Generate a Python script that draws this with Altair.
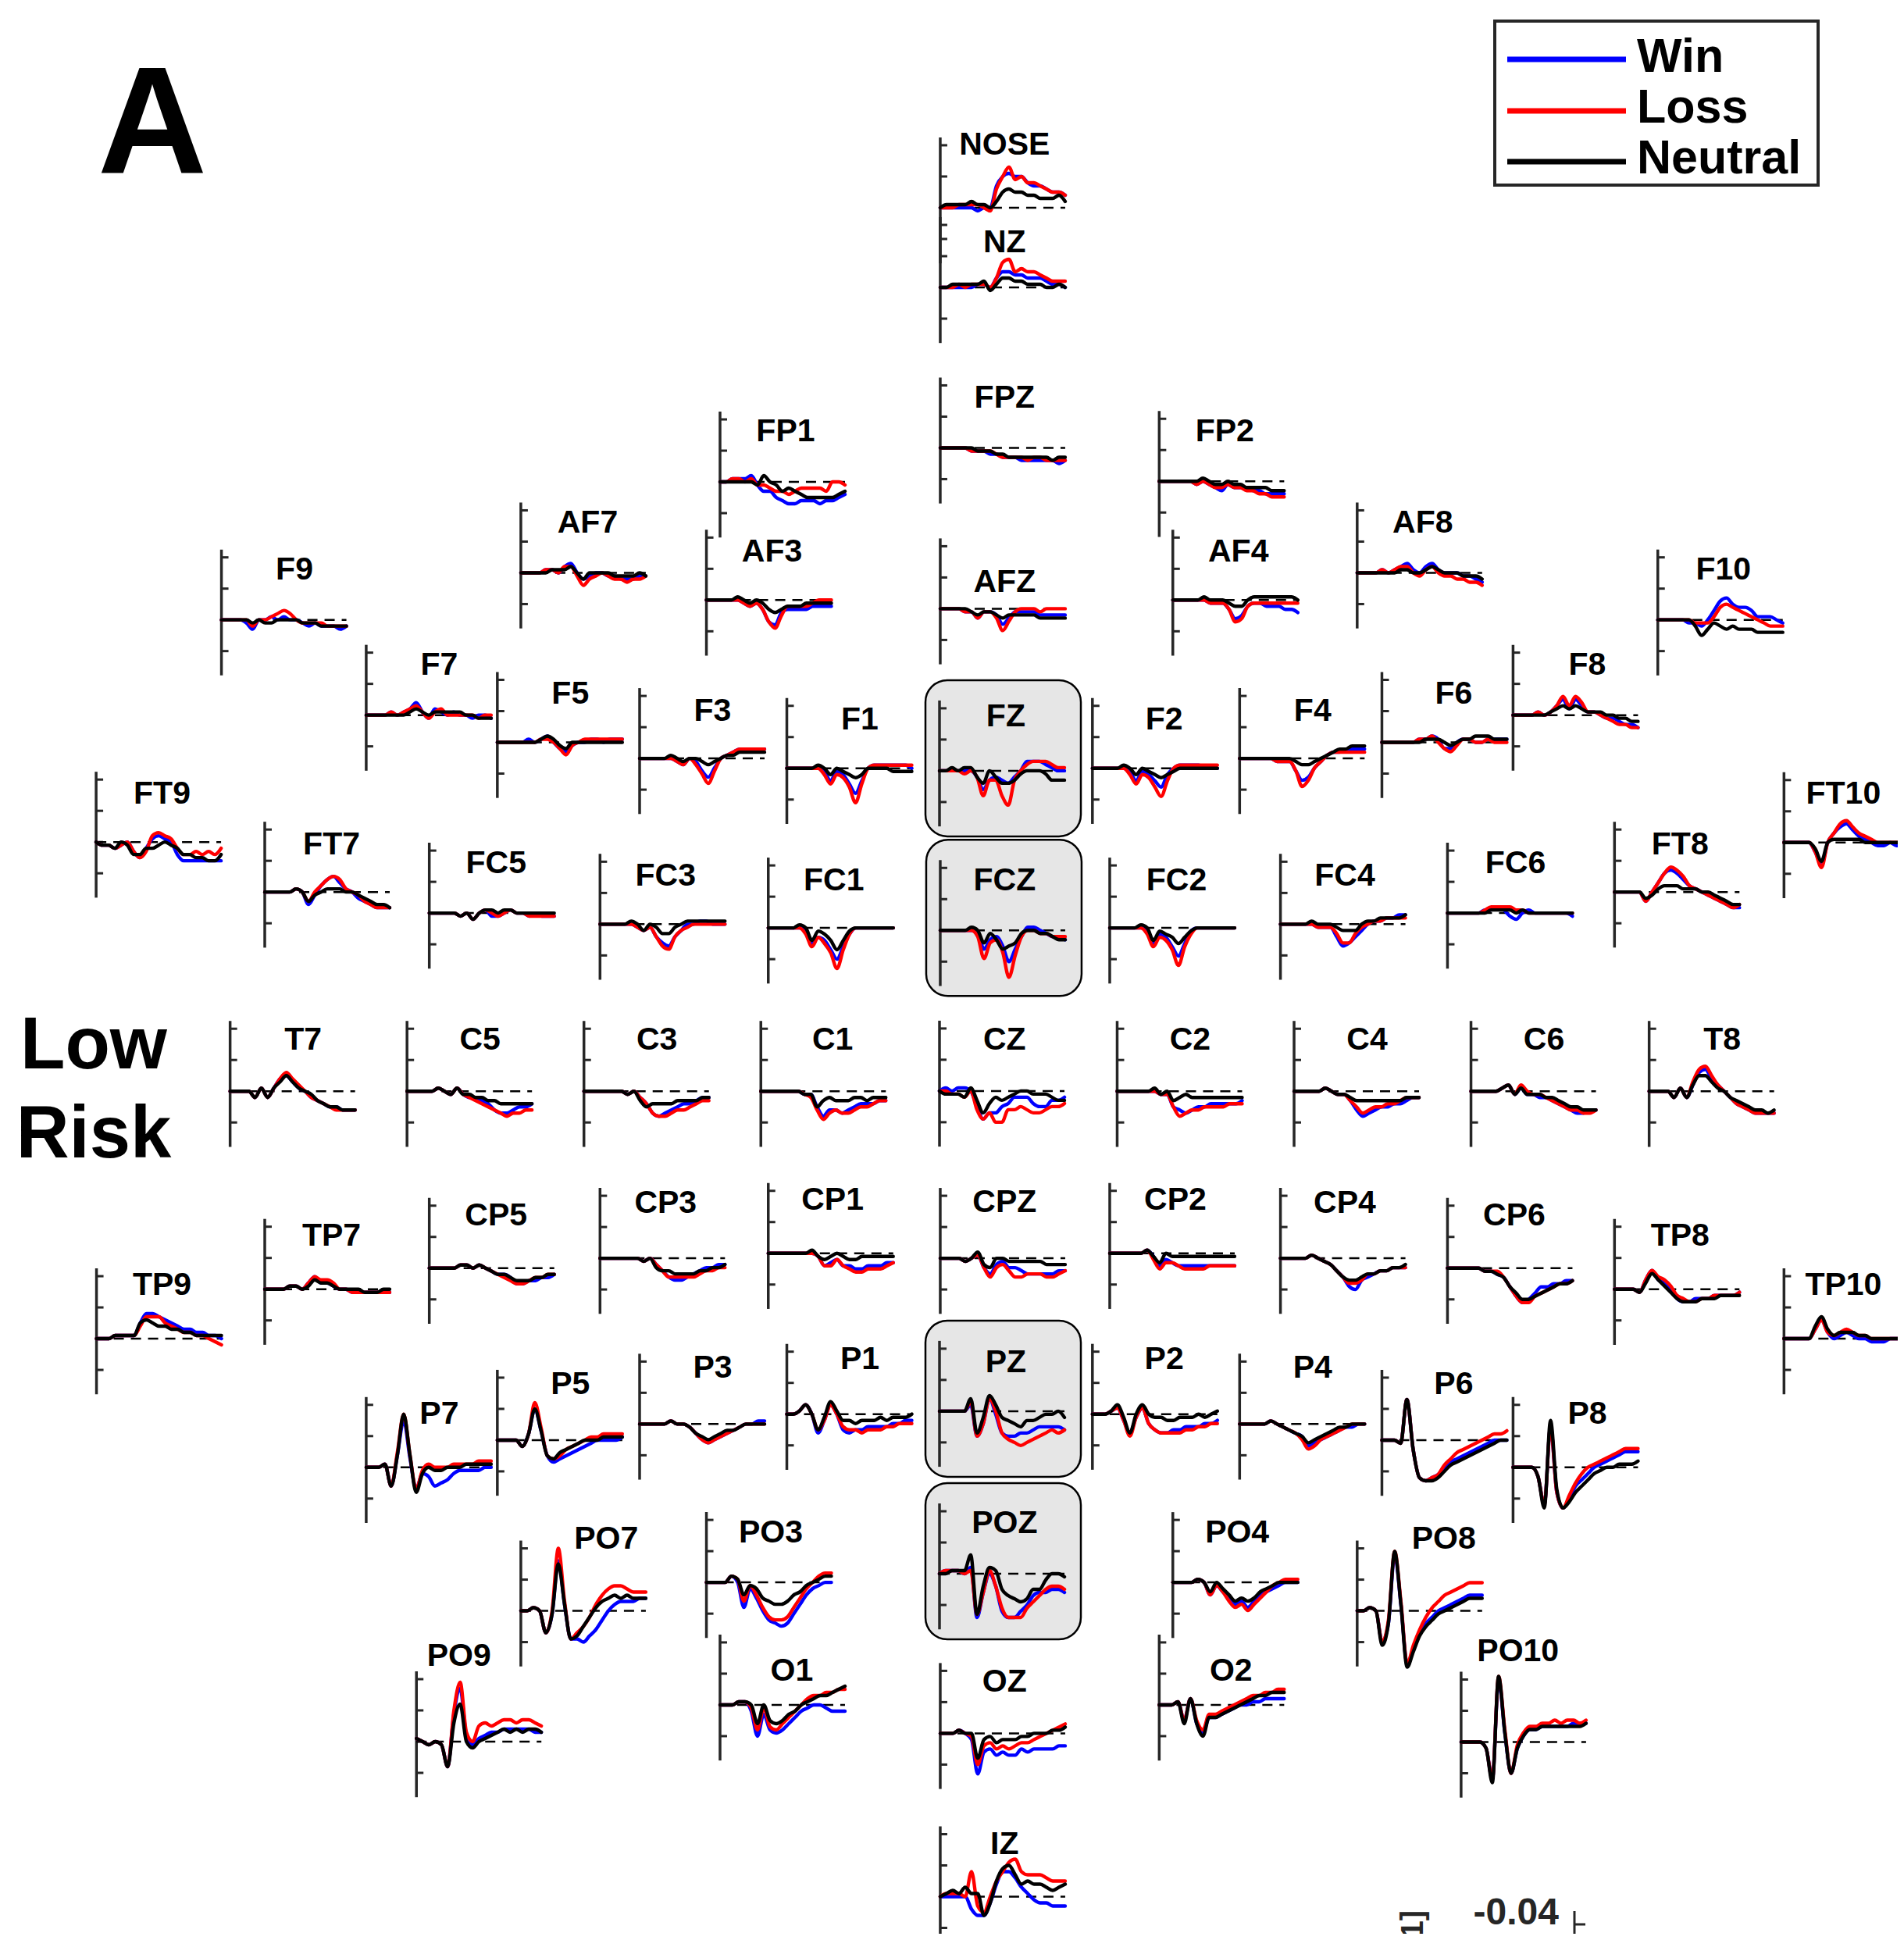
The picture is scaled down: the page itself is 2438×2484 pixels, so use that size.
import altair as alt
import pandas as pd

# ---------------------------------------------------------------- data
TIME_MS = [-200, -150, -100, -50, 0, 50, 100, 150, 200, 250, 300,
           350, 400, 450, 500, 550, 600, 650, 700, 750, 800]
CONDITIONS = ["Win", "Loss", "Neutral"]

# amplitudes in tenths of one axis tick (ticks at 2, 1, 0, -1 tick units)
WIN = {
"NOSE": [0,0,0,0,0,0,-1,0,0,7,10,11,10,10,8,7,7,6,5,5,4],
"NZ":   [0,0,0,0,0,0,1,1,0,3,5,5,4,4,3,3,3,2,1,1,0],
"FPZ":  [0,0,0,0,0,-1,-1,-1,-2,-2,-3,-3,-3,-4,-4,-4,-4,-4,-4,-5,-4],
"FP1":  [0,0,1,1,1,2,-1,-3,-3,-5,-6,-7,-7,-6,-6,-6,-7,-6,-6,-5,-4],
"FP2":  [0,0,0,0,0,0,-1,0,-1,-2,-3,-1,-2,-2,-2,-3,-3,-4,-4,-4,-4],
"AF7":  [0,0,0,0,1,1,0,2,3,0,-2,-1,0,0,-1,-1,-2,-2,-2,-1,-1],
"AF3":  [0,0,0,0,0,0,-1,-2,-1,-3,-7,-8,-4,-3,-3,-3,-3,-2,-2,-2,-2],
"AFZ":  [0,0,0,0,-1,-1,-3,-1,-1,-2,-5,-3,-1,-1,-1,-1,-2,-2,-2,-2,-2],
"AF4":  [0,0,0,0,0,0,-1,-1,-1,-3,-6,-5,-2,-1,-1,-2,-2,-2,-3,-3,-4],
"AF8":  [0,0,0,0,1,0,1,2,3,1,0,2,3,1,0,0,0,-1,-1,-2,-3],
"F9":   [0,0,0,0,-1,-3,0,0,1,0,1,0,0,-1,-2,-1,-2,-2,-2,-3,-2],
"F10":  [0,0,0,0,0,-1,-1,-2,0,3,6,7,5,4,4,3,1,1,1,0,-1],
"F7":   [0,0,0,0,1,0,1,2,4,1,-1,2,1,0,1,0,0,-1,0,0,-1],
"F5":   [0,0,0,0,0,1,0,1,2,0,-2,-3,-1,0,0,1,1,0,1,1,1],
"F3":   [0,0,0,0,0,0,-1,-2,0,-1,-4,-6,-3,0,1,2,3,3,3,3,3],
"F1":   [0,0,0,0,0,0,-1,-4,-1,-2,-5,-8,-4,0,1,1,1,1,1,1,0],
"FZ":   [0,0,0,0,0,0,-2,-6,-3,-2,-3,-4,-2,0,3,3,3,2,1,0,0],
"F2":   [0,0,0,0,0,0,-1,-4,-1,-2,-4,-6,-2,0,1,1,1,1,0,0,0],
"F4":   [0,0,0,0,0,0,-1,-1,-1,-4,-7,-6,-3,-1,1,2,2,3,3,3,3],
"F6":   [0,0,0,0,0,0,1,1,2,1,-2,-2,0,1,1,0,0,1,1,1,1],
"F8":   [0,0,0,0,1,0,1,3,5,2,5,3,1,1,0,-1,-1,-2,-3,-3,-4],
"FT9":  [0,-1,-1,-2,-1,0,-3,-5,-2,1,2,1,0,-4,-6,-6,-6,-6,-6,-6,-6],
"FT10": [0,0,0,0,0,-3,-7,0,3,5,6,4,2,1,0,-1,-1,0,-1,-1,-1],
"FT7":  [0,0,0,0,0,1,0,-4,-1,2,4,5,3,1,0,-2,-3,-4,-5,-5,-5],
"FC5":  [0,0,0,0,0,-1,0,-2,0,1,-1,-1,0,1,0,0,-1,0,-1,-1,-1],
"FC3":  [0,0,0,0,0,0,-1,-2,-1,-4,-6,-7,-4,-2,0,0,1,1,0,0,0],
"FC1":  [0,0,0,0,0,0,-1,-5,-3,-4,-7,-10,-6,-2,0,0,0,0,0,0,0],
"FCZ":  [0,0,0,0,0,0,-1,-6,-3,-2,-5,-10,-6,-2,1,1,0,-1,-2,-2,-3],
"FC2":  [0,0,0,0,0,0,-1,-5,-2,-3,-6,-9,-5,-1,0,0,0,0,0,0,0],
"FC4":  [0,0,0,0,0,0,-1,-1,-1,-4,-7,-6,-4,-2,0,1,1,2,2,3,3],
"FC6":  [0,0,0,0,0,0,1,1,2,1,-1,-2,0,1,0,0,0,0,0,0,-1],
"FT8":  [0,0,0,0,0,-3,0,3,6,7,6,4,2,1,0,-1,-2,-3,-4,-5,-5],
"T7":   [0,0,0,0,-2,1,-2,1,4,5,3,1,0,-2,-3,-4,-5,-5,-6,-6,-6],
"C5":   [0,0,0,0,0,1,0,-1,1,-1,-2,-2,-3,-4,-6,-7,-7,-6,-5,-5,-4],
"C3":   [0,0,0,0,0,0,0,-1,0,-2,-4,-7,-8,-7,-6,-5,-4,-4,-3,-2,-2],
"C1":   [0,0,0,0,0,0,0,-1,-1,-5,-8,-6,-6,-7,-6,-5,-4,-4,-4,-3,-3],
"CZ":   [0,1,0,1,1,0,-5,-9,-7,-7,-5,-4,-2,-2,-2,-4,-5,-5,-3,-3,-2],
"C2":   [0,0,0,0,0,0,0,-1,-1,-5,-6,-7,-6,-5,-5,-4,-4,-4,-4,-4,-3],
"C4":   [0,0,0,0,0,1,0,-1,-1,-3,-6,-8,-7,-6,-5,-5,-4,-4,-3,-2,-2],
"C6":   [0,0,0,0,0,1,2,-1,1,-1,-1,-2,-2,-3,-4,-5,-6,-7,-7,-6,-6],
"T8":   [0,0,0,0,-2,1,-2,2,6,7,4,2,0,-2,-4,-5,-6,-7,-7,-7,-7],
"TP9":  [0,0,0,1,1,1,1,5,8,8,7,6,5,4,3,3,2,2,1,1,0],
"TP10": [0,0,0,0,0,3,6,2,0,1,2,1,0,0,-1,-1,-1,0,0,0,0],
"TP7":  [0,0,0,0,1,1,0,2,4,2,2,1,0,0,-1,-1,-1,-1,-1,-1,-1],
"CP5":  [0,0,0,0,0,1,1,0,1,0,-1,-2,-2,-3,-5,-5,-4,-4,-3,-3,-2],
"CP3":  [0,0,0,0,0,0,0,-1,0,-2,-4,-6,-7,-7,-6,-5,-4,-3,-3,-2,-2],
"CP1":  [0,0,0,0,0,0,0,0,-1,-4,-3,-2,-4,-4,-5,-5,-4,-4,-4,-3,-3],
"CPZ":  [0,0,0,0,-1,0,1,-3,-5,-2,-1,-3,-3,-4,-5,-5,-5,-5,-5,-4,-4],
"CP2":  [0,0,0,0,0,0,1,-1,-4,-2,-3,-4,-4,-4,-4,-4,-4,-4,-4,-4,-4],
"CP4":  [0,0,0,0,0,1,0,-1,-2,-4,-6,-9,-10,-7,-6,-5,-4,-4,-3,-3,-3],
"CP6":  [0,0,0,0,0,0,-1,-1,-2,-3,-6,-9,-11,-10,-8,-6,-6,-5,-5,-4,-4],
"TP8":  [0,0,0,0,-1,3,6,3,2,0,-3,-4,-4,-3,-3,-3,-2,-2,-2,-2,-1],
"P7":   [0,0,0,1,-6,4,15,3,-7,-2,-3,-6,-5,-4,-2,-1,-1,-1,-1,0,0],
"P5":   [0,0,0,0,-2,2,10,3,-5,-7,-6,-5,-4,-3,-2,-1,0,0,0,0,1],
"P3":   [0,0,0,0,0,1,0,0,-1,-3,-5,-6,-5,-4,-3,-2,-1,0,0,1,1],
"P1":   [0,0,1,3,0,-6,-2,3,0,-5,-6,-5,-5,-4,-4,-4,-4,-3,-3,-2,-2],
"PZ":   [0,0,0,0,0,2,-8,-4,4,-1,-7,-8,-8,-7,-7,-6,-5,-5,-5,-5,-6],
"P2":   [0,0,0,1,2,-2,-6,-1,2,-3,-5,-6,-6,-5,-5,-4,-4,-4,-3,-3,-2],
"P4":   [0,0,0,0,0,1,0,-1,-2,-3,-4,-7,-6,-5,-4,-3,-2,-1,-1,0,0],
"P6":   [0,0,0,-1,13,-3,-12,-13,-12,-11,-9,-7,-6,-5,-4,-3,-2,-1,0,0,0],
"P8":   [0,0,0,0,-3,-12,13,-8,-13,-10,-6,-4,-2,0,1,2,3,4,5,5,5],
"PO7":  [0,0,1,0,-7,-1,16,2,-9,-9,-10,-8,-6,-3,0,2,3,3,3,4,4],
"PO3":  [0,0,0,0,2,0,-8,-2,-5,-9,-12,-13,-14,-13,-10,-7,-4,-2,-1,0,0],
"POZ":  [0,1,1,1,0,2,-14,-6,0,-4,-12,-14,-14,-12,-10,-7,-6,-6,-5,-5,-6],
"PO4":  [0,0,0,0,1,0,-4,-1,-3,-5,-7,-6,-8,-6,-4,-3,-2,-1,0,0,0],
"PO8":  [0,0,1,0,-10,-4,18,2,-17,-12,-7,-4,-2,0,1,2,3,4,5,5,5],
"PO9":  [1,0,-1,0,-1,-8,9,17,2,-1,1,2,3,3,4,4,4,4,4,3,3],
"PO10": [0,0,0,0,-2,-12,20,3,-10,-2,2,4,4,5,5,5,5,5,6,6,6],
"O1":   [0,0,0,1,1,-2,-10,-3,-8,-9,-8,-6,-4,-2,-1,0,0,-1,-2,-2,-2],
"O2":   [0,0,0,1,-5,2,-6,-9,-4,-4,-3,-2,-1,0,0,1,1,2,2,2,2],
"OZ":   [0,0,0,1,0,-2,-13,-6,-5,-7,-6,-7,-7,-5,-6,-5,-5,-5,-5,-4,-4],
"IZ":   [0,0,0,0,0,-4,-6,-6,-2,4,8,8,6,3,1,-1,-2,-2,-3,-3,-3],
}

LOSS = {
"NOSE": [0,0,0,1,1,1,1,0,-1,6,10,13,9,10,8,8,7,6,5,5,4],
"NZ":   [0,0,0,1,0,1,1,1,0,3,8,9,5,6,5,5,4,3,2,2,2],
"FPZ":  [0,0,0,0,0,-1,-1,-1,-1,-2,-3,-3,-3,-3,-4,-3,-3,-4,-4,-4,-4],
"FP1":  [0,0,1,1,0,1,-1,-1,-2,-3,-3,-4,-3,-2,-2,-2,-2,-3,0,0,-1],
"FP2":  [0,0,0,0,0,0,-1,0,-1,-2,-2,-1,-2,-2,-3,-3,-4,-4,-5,-5,-5],
"AF7":  [0,0,0,0,1,1,0,2,2,-1,-4,-2,-1,0,-1,-2,-2,-3,-2,-2,-1],
"AF3":  [0,0,0,0,0,0,-1,-2,-1,-3,-7,-9,-5,-2,-2,-2,-2,-1,0,0,0],
"AFZ":  [0,0,0,0,-1,-1,-3,-1,-1,-3,-7,-4,-1,0,0,0,-1,0,0,0,0],
"AF4":  [0,0,0,0,0,0,-1,-1,-1,-3,-7,-6,-2,-1,-1,-1,-1,-1,-1,-1,-1],
"AF8":  [0,0,0,0,1,0,1,2,2,0,-1,1,2,0,-1,-1,-2,-2,-3,-3,-4],
"F9":   [0,0,0,0,0,-2,0,0,1,2,3,2,0,-1,-1,-1,-1,-2,-2,-2,-2],
"F10":  [0,0,0,0,0,0,-1,-1,-1,1,4,5,4,3,2,1,0,-1,-2,-2,-2],
"F7":   [0,0,0,0,1,0,1,2,3,1,-1,1,2,0,0,0,0,0,-1,0,0],
"F5":   [0,0,0,0,0,0,0,1,1,0,-2,-4,-1,0,1,1,1,1,1,1,1],
"F3":   [0,0,0,0,0,0,-1,-2,0,-2,-5,-8,-4,0,1,2,3,3,3,3,3],
"F1":   [0,0,0,0,0,0,-2,-5,-2,-3,-6,-11,-5,0,1,1,1,1,1,1,1],
"FZ":   [0,0,0,0,-1,0,-2,-8,-3,-3,-8,-11,-3,0,2,3,3,3,2,1,1],
"F2":   [0,0,0,0,0,0,-2,-5,-2,-3,-6,-9,-4,0,1,1,1,1,1,1,1],
"F4":   [0,0,0,0,0,0,-1,-1,-1,-4,-9,-7,-3,-1,1,2,2,2,2,2,2],
"F6":   [0,0,0,0,0,0,1,1,2,0,-2,-3,-1,1,1,0,0,1,0,0,0],
"F8":   [0,0,0,0,1,0,1,3,6,3,6,4,1,1,0,-1,-2,-3,-3,-4,-4],
"FT9":  [0,-1,-1,-2,-1,0,-3,-5,-3,2,3,2,1,-2,-4,-4,-3,-4,-3,-4,-2],
"FT10": [0,0,0,0,0,-3,-8,0,3,6,7,5,3,2,1,0,0,0,0,0,0],
"FT7":  [0,0,0,0,0,1,0,-3,0,2,4,5,4,1,0,-1,-3,-4,-5,-5,-5],
"FC5":  [0,0,0,0,0,-1,0,-2,0,1,0,-1,0,1,0,0,-1,-1,-1,-1,-1],
"FC3":  [0,0,0,0,0,0,-1,-2,-1,-4,-7,-8,-4,-2,-1,0,0,0,0,0,0],
"FC1":  [0,0,0,0,0,0,-2,-6,-3,-5,-8,-13,-7,-2,0,0,0,0,0,0,0],
"FCZ":  [0,0,0,0,0,0,-2,-9,-4,-3,-7,-15,-8,-2,0,0,-1,-1,-2,-2,-2],
"FC2":  [0,0,0,0,0,0,-2,-6,-3,-4,-7,-12,-6,-2,0,0,0,0,0,0,0],
"FC4":  [0,0,0,0,0,0,-1,-1,-1,-3,-6,-6,-3,-1,0,1,1,2,2,2,2],
"FC6":  [0,0,0,0,0,0,1,2,2,2,2,1,1,0,0,0,0,0,0,0,0],
"FT8":  [0,0,0,0,0,-3,0,3,6,8,7,5,2,1,0,-1,-2,-3,-4,-5,-4],
"T7":   [0,0,0,0,-2,1,-2,1,4,6,4,2,0,-2,-3,-4,-5,-6,-6,-6,-6],
"C5":   [0,0,0,0,0,1,0,-1,1,-1,-2,-3,-4,-5,-6,-7,-8,-7,-7,-6,-6],
"C3":   [0,0,0,0,0,0,0,-1,0,-2,-4,-7,-8,-8,-7,-6,-6,-5,-4,-3,-3],
"C1":   [0,0,0,0,0,0,0,-1,-2,-6,-9,-7,-6,-7,-7,-6,-5,-5,-4,-3,-3],
"CZ":   [0,0,-1,-1,-2,0,-6,-9,-7,-10,-10,-6,-6,-5,-6,-7,-7,-6,-5,-5,-4],
"C2":   [0,0,0,0,0,0,0,-1,-1,-5,-8,-7,-6,-6,-5,-5,-5,-5,-4,-4,-4],
"C4":   [0,0,0,0,0,1,0,-1,-1,-3,-5,-7,-6,-5,-5,-4,-4,-3,-2,-2,-2],
"C6":   [0,0,0,0,0,1,2,-1,2,0,-1,-1,-2,-3,-4,-5,-6,-6,-7,-7,-6],
"T8":   [0,0,0,0,-2,1,-2,3,7,8,5,2,0,-2,-4,-5,-6,-7,-7,-7,-7],
"TP9":  [0,0,0,1,1,1,1,4,7,7,7,5,4,3,2,2,1,1,0,-1,-2],
"TP10": [0,0,0,0,0,3,6,2,1,2,3,2,1,1,0,0,0,0,0,0,0],
"TP7":  [0,0,0,0,1,1,0,2,4,3,3,2,0,0,-1,-1,-1,-1,-1,-1,-1],
"CP5":  [0,0,0,0,0,1,1,0,1,0,-1,-2,-3,-4,-5,-5,-4,-3,-3,-2,-2],
"CP3":  [0,0,0,0,0,0,0,-1,0,-2,-4,-6,-6,-6,-6,-6,-5,-4,-4,-3,-3],
"CP1":  [0,0,0,0,0,0,0,0,-1,-4,-4,-2,-4,-5,-6,-6,-5,-5,-5,-4,-3],
"CPZ":  [0,0,0,0,-1,0,1,-3,-6,-3,-2,-4,-6,-6,-5,-5,-5,-6,-6,-5,-4],
"CP2":  [0,0,0,0,0,0,1,-2,-5,-3,-3,-4,-5,-5,-5,-5,-4,-4,-4,-4,-4],
"CP4":  [0,0,0,0,0,1,0,-1,-2,-4,-6,-8,-8,-7,-5,-5,-4,-4,-3,-3,-3],
"CP6":  [0,0,0,0,0,0,-1,-1,-1,-3,-6,-9,-11,-11,-9,-8,-7,-6,-5,-5,-4],
"TP8":  [0,0,0,0,-1,3,6,4,3,1,-2,-3,-4,-4,-3,-3,-2,-2,-2,-2,-1],
"P7":   [0,0,0,1,-6,5,17,4,-7,-1,1,0,0,0,1,1,1,1,2,2,2],
"P5":   [0,0,0,0,-2,2,12,4,-5,-6,-5,-3,-2,-1,0,1,1,2,2,2,2],
"P3":   [0,0,0,0,0,1,0,0,-1,-3,-5,-6,-5,-4,-3,-2,-1,0,0,0,0],
"P1":   [0,0,1,3,0,-5,-2,3,0,-4,-5,-5,-6,-5,-5,-5,-4,-4,-3,-3,-3],
"PZ":   [0,0,0,0,0,3,-8,-4,4,0,-7,-9,-10,-11,-10,-9,-8,-7,-6,-7,-6],
"P2":   [0,0,0,1,2,-2,-7,-1,2,-3,-5,-6,-6,-6,-6,-5,-5,-4,-4,-3,-3],
"P4":   [0,0,0,0,0,1,0,-1,-2,-3,-5,-8,-7,-5,-4,-3,-2,-1,0,0,0],
"P6":   [0,0,0,-1,13,-3,-12,-13,-12,-11,-8,-6,-4,-3,-2,-1,0,1,2,2,3],
"P8":   [0,0,0,0,-3,-12,13,-8,-13,-9,-5,-2,0,1,2,3,4,5,6,6,6],
"PO7":  [0,0,1,0,-7,0,20,3,-9,-7,-5,-2,2,5,7,8,8,7,6,6,6],
"PO3":  [0,0,0,0,2,1,-6,-1,-4,-8,-11,-12,-12,-11,-8,-5,-2,0,2,3,3],
"POZ":  [0,1,1,1,0,1,-13,-6,1,-4,-11,-14,-14,-14,-11,-9,-7,-5,-4,-4,-5],
"PO4":  [0,0,0,0,1,0,-4,-1,-3,-6,-8,-7,-9,-7,-5,-3,-1,0,1,1,1],
"PO8":  [0,0,1,0,-10,-3,19,3,-17,-11,-6,-2,1,3,5,6,7,8,9,9,9],
"PO9":  [1,0,-1,0,-1,-8,10,19,3,0,5,6,5,6,7,7,6,7,7,6,5],
"PO10": [0,0,0,0,-2,-12,21,4,-10,-1,3,5,5,6,6,7,6,7,7,6,7],
"O1":   [0,0,0,1,1,-1,-8,-1,-7,-8,-6,-4,-2,0,2,3,3,4,4,5,5],
"O2":   [0,0,0,1,-5,2,-5,-8,-3,-3,-2,-1,0,1,2,3,3,4,4,5,5],
"OZ":   [0,0,0,1,0,-1,-10,-4,-3,-5,-4,-5,-4,-3,-3,-2,-1,0,1,2,3],
"IZ":   [0,1,1,1,0,8,-3,-5,0,5,8,11,12,8,7,7,7,6,5,5,5],
}

NEUTRAL = {
"NOSE": [0,1,1,1,1,2,1,1,0,2,5,6,5,5,4,4,3,3,3,4,2],
"NZ":   [0,0,1,1,1,1,1,2,-1,1,3,3,2,2,1,1,1,0,0,1,0],
"FPZ":  [0,0,0,0,0,0,-1,-1,-1,-2,-2,-3,-3,-3,-3,-3,-3,-3,-4,-3,-3],
"FP1":  [0,0,0,0,0,0,-1,2,0,-1,-3,-2,-3,-4,-5,-5,-5,-5,-5,-4,-3],
"FP2":  [0,0,0,0,0,0,0,1,0,-1,-1,0,-1,-1,-2,-2,-2,-2,-3,-3,-3],
"AF7":  [0,0,0,0,0,1,1,1,2,0,-2,0,0,0,0,-1,-1,-1,-1,0,-1],
"AF3":  [0,0,0,0,0,1,0,-1,0,-1,-3,-4,-3,-2,-2,-2,-1,-1,-1,-1,-1],
"AFZ":  [0,0,0,0,0,-1,-2,-1,-1,-2,-3,-2,-2,-2,-2,-2,-3,-3,-3,-3,-3],
"AF4":  [0,0,0,0,0,1,0,0,0,-1,-2,-2,0,1,1,1,1,1,1,1,0],
"AF8":  [0,0,0,0,0,0,0,1,1,0,0,1,2,1,0,0,0,-1,-1,-1,-2],
"F9":   [0,0,0,0,0,-1,0,-1,-1,0,0,0,0,-1,-1,-1,-2,-2,-2,-2,-2],
"F10":  [0,0,0,0,0,0,-2,-5,-3,-1,-2,-3,-2,-3,-3,-3,-4,-4,-4,-4,-4],
"F7":   [0,0,0,0,0,0,0,1,2,1,0,1,1,1,1,1,0,0,-1,-1,-1],
"F5":   [0,0,0,0,0,0,0,1,2,1,-1,-2,0,0,0,0,0,0,0,0,0],
"F3":   [0,0,0,0,0,1,0,-1,0,0,-1,-2,-1,0,1,1,2,2,2,2,2],
"F1":   [0,0,0,0,0,1,0,-2,0,-1,-2,-3,-2,0,0,0,0,-1,-1,-1,-1],
"FZ":   [0,0,1,0,1,1,-2,-4,0,-2,-4,-4,-3,-1,0,0,0,-1,-3,-3,-3],
"F2":   [0,0,0,0,0,1,0,-2,0,-1,-2,-3,-2,-1,0,0,0,0,0,0,0],
"F4":   [0,0,0,0,0,0,0,0,0,-1,-2,-2,-1,0,1,2,3,3,4,4,4],
"F6":   [0,0,0,0,0,0,0,1,1,1,0,-1,0,1,1,2,2,2,1,1,1],
"F8":   [0,0,0,0,0,0,1,2,3,2,3,2,1,1,1,0,0,-1,-1,-2,-2],
"FT9":  [0,-1,-1,-2,0,-1,-4,-4,-2,-2,-1,0,-1,-2,-4,-4,-5,-5,-6,-6,-4],
"FT10": [0,0,0,0,0,-2,-6,0,1,1,1,1,1,0,0,0,0,0,0,0,0],
"FT7":  [0,0,0,0,0,1,0,-3,-1,0,1,1,1,0,0,-1,-2,-3,-4,-4,-5],
"FC5":  [0,0,0,0,0,-1,0,-2,0,1,1,0,1,1,0,0,0,0,0,0,0],
"FC3":  [0,0,0,0,0,1,0,-2,0,-1,-3,-3,-1,0,1,1,1,1,1,1,1],
"FC1":  [0,0,0,0,0,1,0,-4,-1,-2,-4,-7,-4,-1,0,0,0,0,0,0,0],
"FCZ":  [0,0,0,0,0,1,0,-4,-1,-3,-6,-5,-4,-1,0,0,-1,-1,-2,-3,-3],
"FC2":  [0,0,0,0,0,1,0,-4,-1,-2,-3,-5,-3,-1,0,0,0,0,0,0,0],
"FC4":  [0,0,0,0,0,1,0,0,0,-1,-2,-2,-2,0,1,1,2,2,2,2,3],
"FC6":  [0,0,0,0,0,0,0,1,1,1,1,0,1,0,0,0,0,0,0,0,0],
"FT8":  [0,0,0,0,0,-2,-1,1,2,2,2,1,1,1,0,0,-1,-2,-3,-4,-4],
"T7":   [0,0,0,0,-2,1,-2,1,3,5,3,1,0,-1,-3,-4,-5,-5,-6,-6,-6],
"C5":   [0,0,0,0,0,1,0,-1,1,-1,-1,-2,-2,-3,-3,-4,-4,-4,-4,-4,-4],
"C3":   [0,0,0,0,0,0,0,-1,0,-3,-5,-4,-4,-4,-4,-3,-3,-3,-3,-2,-2],
"C1":   [0,0,0,0,0,0,0,-1,-1,-5,-3,-2,-3,-3,-3,-2,-2,-3,-2,-2,-2],
"CZ":   [0,-1,-1,-1,-2,1,-3,-7,-4,-2,-3,-2,-1,0,0,-1,-1,-1,-2,-3,-3],
"C2":   [0,0,0,0,0,0,1,-1,0,-3,-2,-1,-2,-2,-2,-2,-2,-2,-2,-2,-2],
"C4":   [0,0,0,0,0,1,0,-1,-1,-2,-3,-3,-3,-3,-3,-3,-3,-3,-2,-2,-2],
"C6":   [0,0,0,0,0,1,2,-1,1,-1,-1,-1,-2,-2,-3,-4,-5,-5,-6,-6,-6],
"T8":   [0,0,0,0,-2,1,-2,2,5,5,3,1,0,-2,-3,-4,-5,-6,-6,-7,-6],
"TP9":  [0,0,0,1,1,1,1,5,6,5,4,4,3,3,2,2,1,1,1,1,1],
"TP10": [0,0,0,0,0,4,7,3,1,2,2,2,1,1,0,0,0,0,0,0,0],
"TP7":  [0,0,0,0,1,1,0,1,3,2,2,1,0,0,0,0,-1,-1,-1,0,0],
"CP5":  [0,0,0,0,0,1,1,0,1,0,-1,-2,-2,-3,-4,-4,-4,-3,-3,-2,-2],
"CP3":  [0,0,0,0,0,0,0,-1,0,-3,-4,-4,-5,-5,-5,-5,-4,-4,-3,-3,-2],
"CP1":  [0,0,0,0,0,0,0,1,-1,-2,-1,0,-1,-2,-2,-1,-1,-1,-1,-1,-1],
"CPZ":  [0,0,0,0,-1,0,2,-2,-3,0,0,-1,-1,-1,-1,-1,-1,-2,-2,-2,-2],
"CP2":  [0,0,0,0,0,0,1,-1,-3,0,-1,-1,-1,-1,-1,-1,-1,-1,-1,-1,-1],
"CP4":  [0,0,0,0,0,1,0,-1,-2,-4,-6,-7,-7,-6,-5,-5,-4,-4,-3,-3,-2],
"CP6":  [0,0,0,0,0,0,-1,-1,-2,-3,-6,-8,-10,-10,-9,-8,-7,-6,-5,-5,-4],
"TP8":  [0,0,0,0,-1,2,5,3,1,-1,-3,-4,-4,-4,-3,-3,-3,-2,-2,-2,-2],
"P7":   [0,0,0,1,-6,4,17,4,-8,-2,0,-1,-1,0,0,0,1,1,1,1,1],
"P5":   [0,0,0,0,-2,2,10,3,-5,-6,-4,-3,-2,-1,0,0,0,1,1,1,1],
"P3":   [0,0,0,0,0,1,0,0,-1,-3,-4,-5,-4,-3,-2,-2,-1,0,0,0,0],
"P1":   [0,0,1,3,0,-5,-1,4,1,-2,-2,-3,-2,-2,-2,-1,-2,-1,-1,-1,0],
"PZ":   [0,0,0,0,0,4,-7,-2,5,2,-2,-3,-4,-5,-3,-3,-2,-1,-1,0,-2],
"P2":   [0,0,0,1,3,-1,-6,0,3,0,-1,-1,-2,-2,-1,-1,-1,0,-1,0,1],
"P4":   [0,0,0,0,0,1,0,-1,-2,-3,-4,-6,-5,-4,-3,-2,-1,-1,0,0,0],
"P6":   [0,0,0,-1,13,-3,-12,-13,-13,-12,-10,-8,-7,-6,-5,-4,-3,-2,-1,0,0],
"P8":   [0,0,0,0,-3,-13,15,-7,-13,-11,-8,-6,-4,-2,-1,0,0,1,1,1,2],
"PO7":  [0,0,1,0,-7,-1,15,2,-9,-8,-5,-2,1,3,4,5,4,5,4,4,4],
"PO3":  [0,0,0,0,2,1,-4,-1,-2,-5,-6,-7,-7,-6,-4,-3,-1,0,1,2,2],
"POZ":  [0,0,1,1,1,6,-13,-4,2,1,-5,-7,-8,-9,-8,-5,-5,-2,0,0,-1],
"PO4":  [0,0,0,0,1,0,-3,0,-2,-4,-6,-5,-6,-5,-3,-2,-1,0,0,0,0],
"PO8":  [0,0,1,0,-11,-4,19,2,-18,-13,-8,-5,-3,-1,0,1,2,3,4,4,4],
"PO9":  [1,0,-1,0,-1,-8,6,12,0,-2,0,1,2,3,4,3,4,3,4,4,3],
"PO10": [0,0,0,0,-2,-13,21,3,-10,-2,2,4,4,5,5,5,5,5,5,5,6],
"O1":   [0,0,0,1,1,0,-6,0,-5,-6,-5,-3,-2,0,1,2,3,3,4,5,6],
"O2":   [0,0,0,1,-6,2,-6,-10,-4,-4,-3,-2,-1,0,1,2,3,3,4,4,4],
"OZ":   [0,0,0,1,0,0,-8,-2,-1,-3,-2,-2,-2,-1,-1,0,0,0,1,1,2],
"IZ":   [0,1,2,1,3,1,1,-6,-2,5,9,10,7,4,5,4,4,3,2,3,4],
}

AXIS_TICKS = [20, 10, 0, -10]          # tenths of a tick unit
HIGHLIGHTED = ["FZ", "FCZ", "PZ", "POZ"]
SCALE_LABEL = "-0.04"
SCALE_NOTE = "[-0.04 0.021]"

# ---------------------------------------------------------------- layout
# electrode: (axis x, baseline y, label x, label y), read on a 1539 px wide copy
LAYOUT = {
"NOSE": (760, 167.9, 812, 117.4), "NZ": (760, 232.3, 812, 196.6),
"FPZ": (760, 362, 812, 322), "FP1": (582, 389.5, 635, 349), "FP2": (937, 389, 990, 349),
"AF7": (421, 463, 475, 423), "AF3": (571, 485, 624, 446), "AFZ": (760, 492, 812, 471),
"AF4": (948, 485, 1001, 446), "AF8": (1097, 463, 1150, 423),
"F9": (179, 501, 238, 461), "F10": (1340, 501, 1393, 461),
"F7": (296, 578, 355, 538), "F5": (402, 600, 461, 561), "F3": (517, 613, 576, 575),
"F1": (636, 621, 695, 582), "FZ": (759.4, 623, 813, 579.5), "F2": (883, 621, 941, 582),
"F4": (1002, 613, 1061, 575), "F6": (1117, 600, 1175, 561), "F8": (1223, 578, 1283, 538),
"FT9": (77.7, 680.6, 131, 642), "FT10": (1442, 681, 1490, 642),
"FT7": (214, 721, 268, 683), "FC5": (347, 738, 401, 698), "FC3": (485, 747, 538, 708),
"FC1": (621, 750, 674, 712), "FCZ": (760, 752, 812, 712), "FC2": (897, 750, 951, 712),
"FC4": (1035, 747, 1087, 708), "FC6": (1170, 738, 1225, 698), "FT8": (1305, 721, 1358, 683),
"T7": (186, 882, 245, 841), "C5": (329, 882, 388, 841), "C3": (472, 882, 531, 841),
"C1": (615, 882, 673, 841), "CZ": (759.4, 881.8, 812, 841), "C2": (903, 882, 962, 841),
"C4": (1046, 882, 1105, 841), "C6": (1189, 882, 1248, 841), "T8": (1333, 882, 1392, 841),
"TP9": (78, 1082, 131, 1039), "TP10": (1442, 1082, 1490, 1039),
"TP7": (214, 1042, 268, 999), "CP5": (347, 1025, 401, 983), "CP3": (485, 1017, 538, 973),
"CP1": (621, 1013, 673, 970), "CPZ": (760, 1017, 812, 972), "CP2": (897, 1013, 950, 970),
"CP4": (1035, 1017, 1087, 973), "CP6": (1170, 1025, 1224, 983), "TP8": (1305, 1042, 1358, 999),
"P7": (296, 1186, 355, 1143), "P5": (402, 1164, 461, 1119), "P3": (517, 1151, 576, 1106),
"P1": (636, 1143, 695, 1099), "PZ": (759.4, 1140.6, 813, 1101.5), "P2": (883, 1143, 941, 1099),
"P4": (1002, 1151, 1061, 1106), "P6": (1117, 1164, 1175, 1119), "P8": (1223, 1186, 1283, 1143),
"PO7": (421, 1302, 490, 1244), "PO3": (571, 1279, 623, 1239), "POZ": (759.4, 1272, 812, 1231.6),
"PO4": (948, 1279, 1000, 1239), "PO8": (1097, 1302, 1167, 1244),
"PO9": (336.6, 1407.7, 371, 1339), "PO10": (1181, 1408, 1227, 1335),
"O1": (582, 1378, 640, 1351), "O2": (937, 1378, 995, 1351), "OZ": (760, 1401, 812, 1360),
"IZ": (760, 1533, 812, 1491),
}
S = 2438 / 1539            # reference copy -> full size
PX_PER_MS = 0.16           # 1000 ms -> 160 px
PX_PER_UNIT = 4            # 0.1 tick -> 4 px
COLORS = {"Win": "#0000ff", "Loss": "#ff0000", "Neutral": "#000000"}
FONT = "Liberation Sans"
AX_COLOR = "#262626"

# ---------------------------------------------------------------- frames
rows = []
for cond, table in zip(CONDITIONS, [WIN, LOSS, NEUTRAL]):
    for name, vals in table.items():
        ax, by, _, _ = LAYOUT[name]
        for t, v in zip(TIME_MS, vals):
            rows.append(dict(electrode=name, cond=cond, t=t,
                             X=ax * S + (t - TIME_MS[0]) * PX_PER_MS,
                             Y=by * S - v * PX_PER_UNIT))
waves = pd.DataFrame(rows)

span = (TIME_MS[-1] - TIME_MS[0]) * PX_PER_MS
axes_rows, tick_rows, base_rows, label_rows = [], [], [], []
for name, (ax, by, lx, ly) in LAYOUT.items():
    x0, y0 = ax * S, by * S
    axes_rows.append(dict(X=x0, Y1=y0 - 22.5 * PX_PER_UNIT, Y2=y0 + 17.8 * PX_PER_UNIT))
    for tk in AXIS_TICKS:
        tick_rows.append(dict(X1=x0, X2=x0 + 9, Y=y0 - tk * PX_PER_UNIT))
    base_rows.append(dict(X1=x0, X2=x0 + span, Y=y0))
    label_rows.append(dict(X=lx * S, Y=ly * S, text=name))

box_rows = []
for name in HIGHLIGHTED:
    ax, by, _, _ = LAYOUT[name]
    x0, y0 = ax * S, by * S
    box_rows.append(dict(X1=x0 - 18, X2=x0 + 181, Y1=y0 - 116, Y2=y0 + 84))

XS = alt.Scale(domain=[8, 2430], nice=False, zero=False)
YS = alt.Scale(domain=[8, 2476], nice=False, zero=False, reverse=True)

def X(f):
    return alt.X(f, type="quantitative", scale=XS, axis=None)

def Y(f):
    return alt.Y(f, type="quantitative", scale=YS, axis=None)

boxes = alt.Chart(pd.DataFrame(box_rows)).mark_rect(
    cornerRadius=28, fill="#e6e6e6", stroke="#000000", strokeWidth=2.5
).encode(x=X("X1"), x2="X2", y=Y("Y1"), y2="Y2")

axis_lines = alt.Chart(pd.DataFrame(axes_rows)).mark_rule(
    color=AX_COLOR, strokeWidth=3.5
).encode(x=X("X"), y=Y("Y1"), y2="Y2")

ticks = alt.Chart(pd.DataFrame(tick_rows)).mark_rule(
    color=AX_COLOR, strokeWidth=3
).encode(x=X("X1"), x2="X2", y=Y("Y"))

baselines = alt.Chart(pd.DataFrame(base_rows)).mark_rule(
    color="#000000", strokeWidth=2.5, strokeDash=[13, 9]
).encode(x=X("X1"), x2="X2", y=Y("Y"))

line_layers = []
for cond in CONDITIONS:
    line_layers.append(
        alt.Chart(waves[waves.cond == cond]).mark_line(
            color=COLORS[cond], strokeWidth=4.4, interpolate="monotone",
            strokeJoin="round", strokeCap="round"
        ).encode(x=X("X"), y=Y("Y"), detail="electrode:N", order="t:Q")
    )

labels = alt.Chart(pd.DataFrame(label_rows)).mark_text(
    font=FONT, fontSize=41, fontWeight="bold", color="#000000",
    align="center", baseline="middle"
).encode(x=X("X"), y=Y("Y"), text="text:N")

# legend
leg_box = alt.Chart(pd.DataFrame([dict(X1=1914, X2=2328, Y1=27, Y2=237)])).mark_rect(
    fill="#ffffff", stroke=AX_COLOR, strokeWidth=4
).encode(x=X("X1"), x2="X2", y=Y("Y1"), y2="Y2")
leg_df = pd.DataFrame(dict(cond=CONDITIONS, X1=[1930] * 3, X2=[2082] * 3,
                           Y=[76, 142, 207], TX=[2096] * 3, TY=[92, 157, 222]))
leg_lines = alt.Chart(leg_df).mark_rule(strokeWidth=7).encode(
    x=X("X1"), x2="X2", y=Y("Y"),
    color=alt.Color("cond:N", scale=alt.Scale(domain=CONDITIONS,
                    range=[COLORS[c] for c in CONDITIONS]), legend=None))
leg_text = alt.Chart(leg_df).mark_text(
    font=FONT, fontSize=61, fontWeight="bold", align="left", baseline="alphabetic"
).encode(x=X("TX"), y=Y("TY"), text="cond:N")

panel_letter = alt.Chart(pd.DataFrame([dict(X=125, Y=221, text="A")])).mark_text(
    font=FONT, fontSize=194, fontWeight="bold", align="left", baseline="alphabetic"
).encode(x=X("X"), y=Y("Y"), text="text:N")

group_df = pd.DataFrame(dict(X=[120, 120], Y=[1368, 1482], text=["Low", "Risk"]))
group_text = alt.Chart(group_df).mark_text(
    font=FONT, fontSize=94, fontWeight="bold", align="center", baseline="alphabetic"
).encode(x=X("X"), y=Y("Y"), text="text:N")

# scale reference (bottom right, runs off the page as in the reference)
scale_text = alt.Chart(pd.DataFrame([dict(X=1996, Y=2464, text=SCALE_LABEL)])).mark_text(
    font=FONT, fontSize=48, fontWeight="bold", align="right", baseline="alphabetic",
    color=AX_COLOR
).encode(x=X("X"), y=Y("Y"), text="text:N")
scale_note = alt.Chart(pd.DataFrame([dict(X=1822, Y=2446, text=SCALE_NOTE)])).mark_text(
    font=FONT, fontSize=40, fontWeight="bold", align="right", baseline="alphabetic",
    angle=270, color=AX_COLOR
).encode(x=X("X"), y=Y("Y"), text="text:N")
scale_axis = alt.Chart(pd.DataFrame([dict(X=2016, Y1=2447, Y2=2484)])).mark_rule(
    color=AX_COLOR, strokeWidth=3
).encode(x=X("X"), y=Y("Y1"), y2="Y2")
scale_tick = alt.Chart(pd.DataFrame([dict(X1=2016, X2=2030, Y=2464)])).mark_rule(
    color=AX_COLOR, strokeWidth=3
).encode(x=X("X1"), x2="X2", y=Y("Y"))

chart = alt.layer(
    boxes, axis_lines, ticks, baselines, *line_layers, labels,
    leg_box, leg_lines, leg_text, panel_letter, group_text,
    scale_text, scale_note, scale_axis, scale_tick
).properties(
    width=2422, height=2468,
    autosize=alt.AutoSizeParams(type="none"),
    padding=0,
).configure_view(stroke=None)

chart.save("out.html", embed_options={"renderer": "svg", "actions": False})
